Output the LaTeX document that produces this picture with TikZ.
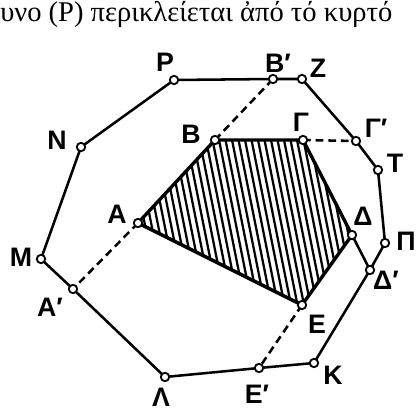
\documentclass[tikz,border=0pt]{standalone}
\usepackage{fontspec}
\setmainfont{Liberation Serif}
\newfontfamily\lblfont{Liberation Sans}
\usetikzlibrary{calc}
\tikzset{
    vtx/.style={circle, draw, fill=white, line width=1.3pt, inner sep=0pt, minimum size=0.21cm},
    lbl/.style={font=\lblfont\bfseries\fontsize{19}{21}\selectfont, inner sep=0pt},
    outerEdge/.style={line width=1.8pt, line join=round},
    innerEdge/.style={line width=2.4pt, line join=round},
    hatchLine/.style={line width=1.6pt},
    proj/.style={line width=1.8pt, dash pattern=on 5.5pt off 3.5pt}
}
\begin{document}
\begin{tikzpicture}[x=0.025cm, y=-0.025cm]
\useasboundingbox (0,0) rectangle (420,412);
% Running text of the page
\node[anchor=base west, inner sep=0pt, font=\fontsize{20.3}{22}\selectfont] (txt) at (0,22)
    {υνο (P) περικλείεται ἀπό τό κυρτό};

% Vertices: inner polygon
\foreach \n/\x/\y in {A/138/223, B/215/140, G/303/140, D/352/235, E/302/305}
    \coordinate (\n) at (\x,\y);
% Vertices: outer polygon
\foreach \n/\x/\y in {P/174/80, Bp/273/79, Z/302/79, Gp/356/141, T/378/170, Pi/385/243,
    Dp/370/270, K/314/363, Ep/259/368, L/165/377, Ap/73/289, M/41/259, N/81/147}
    \coordinate (\n) at (\x,\y);

% Hatching of the inner polygon
\begin{scope}
    \clip (A) -- (B) -- (G) -- (D) -- (E) -- cycle;
    \foreach \x in {60,66.5,...,380}
        \draw[hatchLine] (\x,125) -- (\x+40,325);
\end{scope}
\draw[innerEdge] (A) -- (B) -- (G) -- (D) -- (E) -- cycle;

% Outer polygon
\draw[outerEdge] (P) -- (Bp) -- (Z) -- (Gp) -- (T) -- (Pi) -- (Dp) -- (K) -- (Ep)
    -- (L) -- (Ap) -- (M) -- (N) -- cycle;

% Connections
\draw[proj] (B) -- (Bp);
\draw[proj] (G) -- (Gp);
\draw[proj] (A) -- (Ap);
\draw[proj] (E) -- (Ep);
\draw[outerEdge] (D) -- (Dp);

% Small circles and letters
\foreach \n/\lx/\ly/\t in {A/117/214/Α, B/191/134/Β, G/301/122/Γ, D/363/216/Δ, E/317/324/Ε,
    P/165/62/Ρ, Bp/278/63/Β′, Z/318/68/Ζ, Gp/376/128/Γ′, T/395/163/Τ, Pi/406/241/Π,
    Dp/386/280/Δ′, K/333/375/Κ, Ep/257/394/Ε′, L/161/397/Λ, Ap/50/307/Α′, M/21/257/Μ, N/57/140/Ν} {
    \node[vtx] (c\n) at (\n) {};
    \node[lbl] (l\n) at (\lx,\ly) {\t};
}
\end{tikzpicture}
\end{document}
